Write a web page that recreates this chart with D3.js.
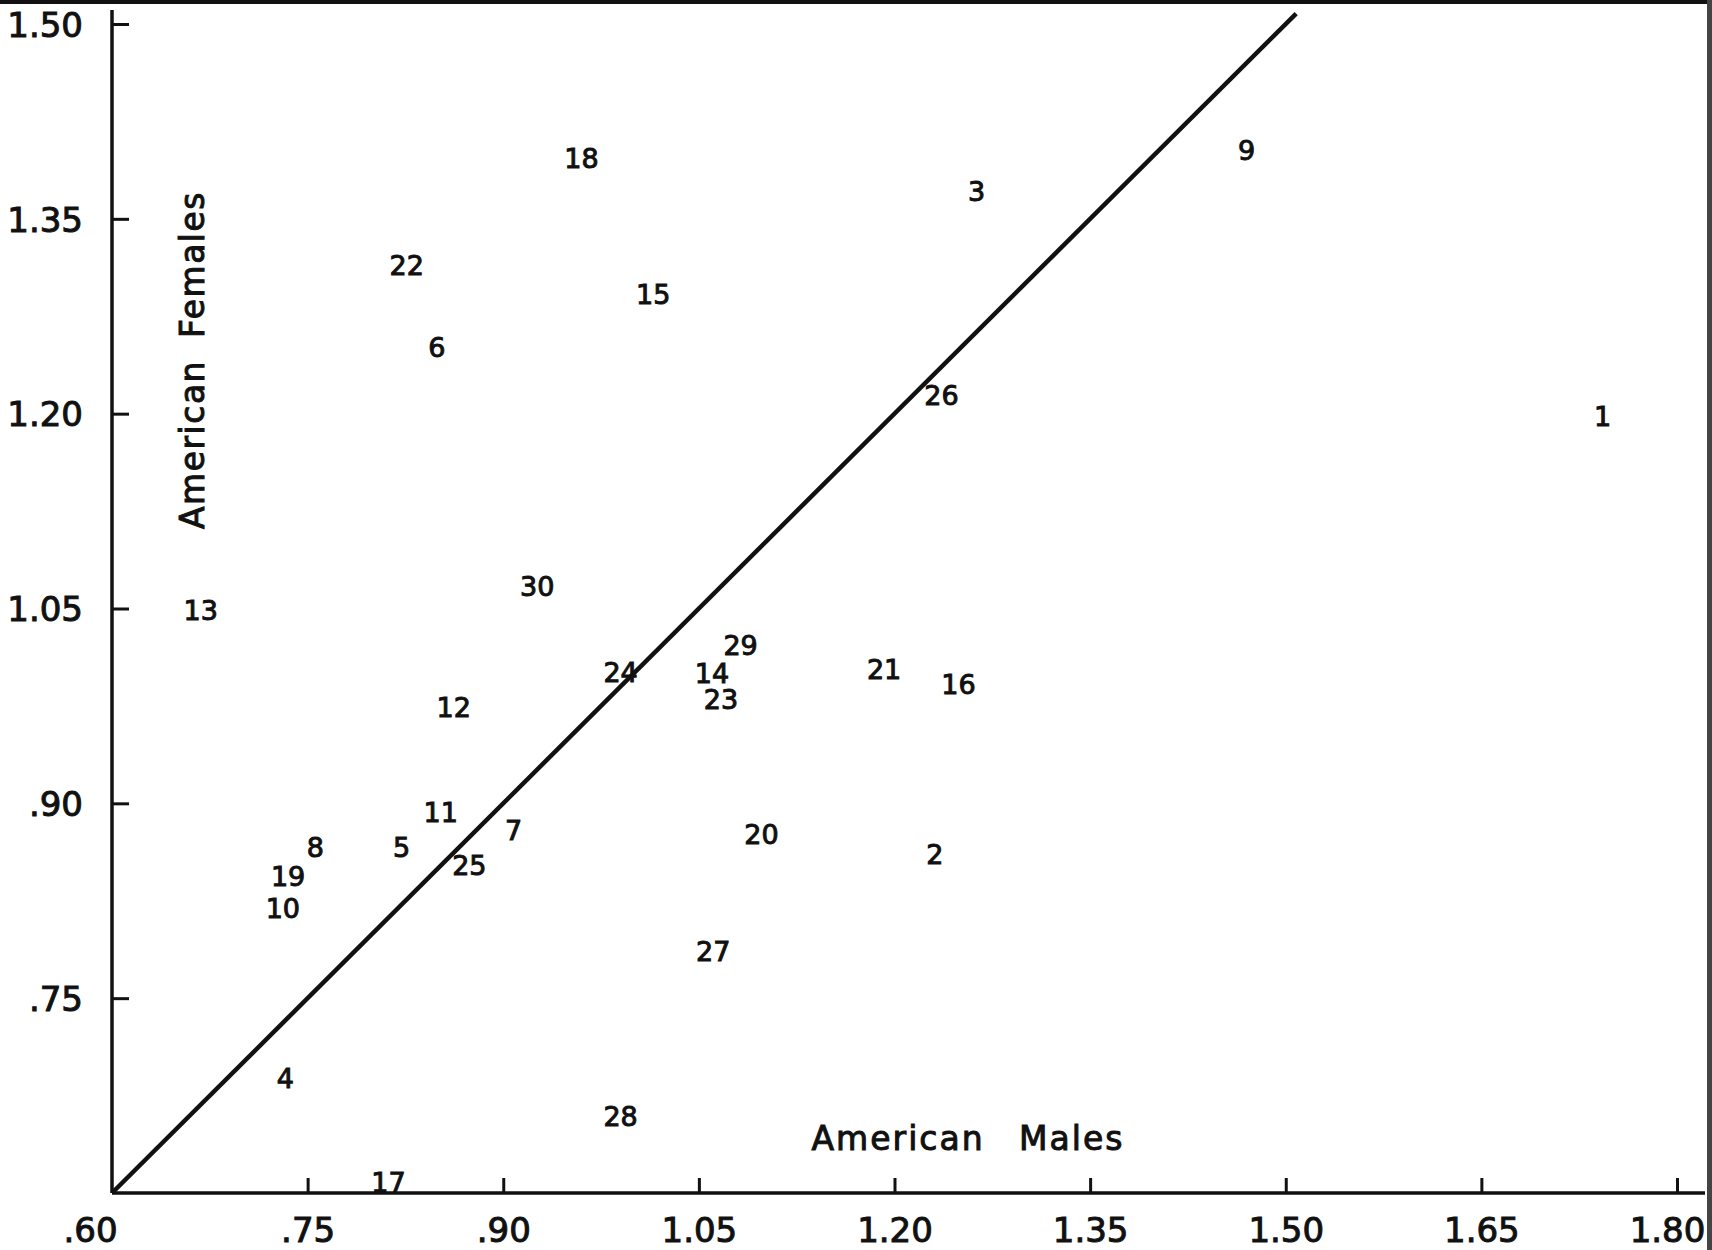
<!DOCTYPE html>
<html lang="en">
<head>
<meta charset="utf-8">
<title>American Males vs American Females</title>
<script src="https://cdn.jsdelivr.net/npm/d3@7"></script>
<style>
  body { margin: 0; background: #fff; }
  svg { display: block; }
  text { font-family: "DejaVu Sans", sans-serif; fill: #111; stroke: #111; stroke-width: 1px; }
  .tick line { stroke: #111; stroke-width: 3; }
  .lbl { font-size: 27px; }
</style>
</head>
<body>
<script>
// plot ids and values
var ids     = [1,2,3,4,5,6,7,8,9,10,11,12,13,14,15,16,17,18,19,20,21,22,23,24,25,26,27,28,29,30];
var males   = [1.743,1.231,1.263,0.733,0.822,0.849,0.908,0.756,1.470,0.731,0.852,0.862,0.668,1.060,1.015,1.249,0.812,0.960,0.735,1.098,1.192,0.826,1.067,0.990,0.874,1.236,1.061,0.990,1.082,0.926];
var females = [1.198,0.861,1.371,0.688,0.866,1.251,0.879,0.866,1.403,0.819,0.893,0.974,1.049,1.000,1.292,0.992,0.608,1.397,0.844,0.876,1.003,1.314,0.980,1.001,0.852,1.214,0.786,0.659,1.022,1.067];

var xTicks = [0.60,0.75,0.90,1.05,1.20,1.35,1.50,1.65,1.80];
var yTicks = [0.75,0.90,1.05,1.20,1.35,1.50];
var diagEnds = [0.60, 1.508];

var w = 1712, h = 1250;

var x = d3.scaleLinear().domain([0.6, 1.8]).range([112, 1677]);
var y = d3.scaleLinear().domain([0.6, 1.5]).range([1193, 24]);

var fmt = function(v) {
  var s = d3.format(".2f")(v);
  return v < 1 ? s.replace(/^0/, "") : s;
};

var svg = d3.select("body").append("svg")
  .attr("width", w)
  .attr("height", h);

// scan edges
svg.append("rect").attr("x", 0).attr("y", 0).attr("width", w).attr("height", 4).attr("fill", "#111");
svg.append("rect").attr("x", 1707).attr("y", 0).attr("width", 5).attr("height", h).attr("fill", "#444");

// axes lines
svg.append("line")
  .attr("x1", x(0.6)).attr("x2", 1705)
  .attr("y1", y(0.6)).attr("y2", y(0.6))
  .attr("stroke", "#111").attr("stroke-width", 3.5);
svg.append("line")
  .attr("x1", x(0.6)).attr("x2", x(0.6))
  .attr("y1", y(0.6)).attr("y2", 10)
  .attr("stroke", "#111").attr("stroke-width", 3.5);

var xAxis = d3.axisBottom(x)
  .tickValues(xTicks)
  .tickSizeInner(-15)
  .tickSizeOuter(0)
  .tickFormat(fmt);

var gx = svg.append("g")
  .attr("transform", "translate(0," + y(0.6) + ")")
  .call(xAxis);
gx.select(".domain").remove();
gx.selectAll(".tick text")
  .attr("y", 37)
  .attr("dy", "0.36em")
  .style("font-size", "34px")
  .attr("dx", function(d) { return d == 0.6 ? -22 : (d == 1.8 ? -10 : 0); });
gx.selectAll(".tick line").filter(function(d) { return d == 0.6; }).remove();

var yAxis = d3.axisLeft(y)
  .tickValues(yTicks)
  .tickSizeInner(-17)
  .tickSizeOuter(0)
  .tickFormat(fmt);

var gy = svg.append("g")
  .attr("transform", "translate(" + x(0.6) + ",0)")
  .call(yAxis);
gy.select(".domain").remove();
gy.selectAll(".tick text")
  .attr("x", -29)
  .attr("dy", "0.36em")
  .style("font-size", "34px");

// y = x reference line
svg.append("line")
  .attr("x1", x(diagEnds[0])).attr("y1", y(diagEnds[0]))
  .attr("x2", x(diagEnds[1])).attr("y2", y(diagEnds[1]))
  .attr("stroke", "#111").attr("stroke-width", 4.5);

// numbered points
var pts = ids.map(function(id, i) { return { id: id, m: males[i], f: females[i] }; });
svg.selectAll("text.lbl")
  .data(pts)
  .enter()
  .append("text")
  .attr("class", "lbl")
  .attr("x", function(d) { return x(d.m); })
  .attr("y", function(d) { return y(d.f); })
  .attr("text-anchor", "middle")
  .attr("dy", "0.36em")
  .text(function(d) { return d.id; });

// axis titles
svg.append("text")
  .attr("x", 968).attr("y", 1138)
  .attr("text-anchor", "middle")
  .attr("dy", "0.36em")
  .style("font-size", "33px")
  .style("letter-spacing", "2px")
  .style("word-spacing", "22px")
  .text("American Males");

svg.append("text")
  .attr("transform", "translate(192,360) rotate(-90)")
  .attr("text-anchor", "middle")
  .attr("dy", "0.36em")
  .style("font-size", "33px")
  .style("letter-spacing", "1.5px")
  .style("word-spacing", "10px")
  .text("American Females");
</script>
</body>
</html>
